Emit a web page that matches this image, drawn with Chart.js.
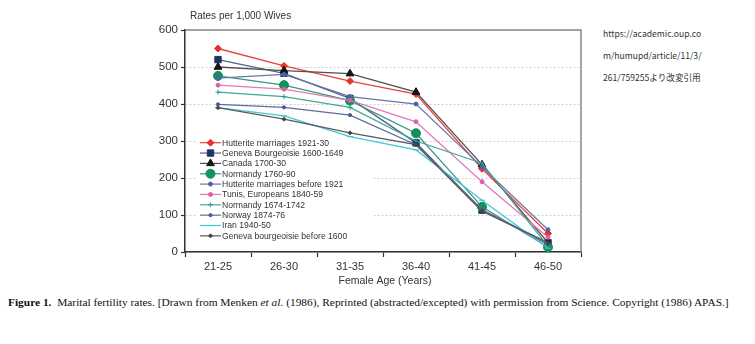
<!DOCTYPE html>
<html>
<head>
<meta charset="utf-8">
<script src="https://cdn.jsdelivr.net/npm/chart.js@4"></script>
<style>
  body { margin: 0; background: #fff; width: 755px; height: 344px; position: relative; overflow: hidden; }
  #wrap { position: absolute; left: 0; top: 0; width: 595px; height: 290px; }
  #note { position: absolute; left: 603px; top: 22px; font-family: "Noto Sans CJK JP", "Noto Sans", sans-serif; font-size: 8.6px; line-height: 22px; color: #333; }
  #caption { position: absolute; left: 8px; top: 296px; font-family: "Liberation Serif", "DejaVu Serif", serif; font-size: 11.4px; color: #111; white-space: nowrap; }
</style>
</head>
<body>
<div id="wrap"><canvas id="chart"></canvas></div>
<div id="note">https://academic.oup.co<br>m/humupd/article/11/3/<br>261/759255より改変引用</div>
<div id="caption"><b>Figure 1.</b>&nbsp; Marital fertility rates. [Drawn from Menken <i>et al.</i> (1986), Reprinted (abstracted/excepted) with permission from Science. Copyright (1986) APAS.]</div>
<script>
// age groups and rates per 1,000 wives
const ages = ['21-25', '26-30', '31-35', '36-40', '41-45', '46-50'];
const yTicks = [0, 100, 200, 300, 400, 500, 600];

const hutterite1921 = [550, 503, 462, 427, 225, 50];
const geneva1600 = [520, 483, 415, 295, 113, 25];
const canada = [500, 490, 482, 432, 236, 25];
const normandy1760 = [476, 451, 409, 321, 122, 13];
const hutteriteBefore = [470, 480, 420, 400, 230, 60];
const tunis = [451, 440, 410, 352, 190, 40];
const normandy1674 = [432, 420, 391, 300, 240, 15];
const norway = [399, 391, 370, 290, 115, 20];
const iran = [390, 368, 312, 276, 140, 10];
const genevaBefore = [390, 359, 322, 290, 110, 25];

const series = [
    { label: 'Hutterite marriages 1921-30', data: hutterite1921, line: '#e8423c', mark: '#e8302c', style: 'rectRot', r: 3.5 },
    { label: 'Geneva Bourgeoisie 1600-1649', data: geneva1600, line: '#52648a', mark: '#1b3463', style: 'rect', r: 4.5 },
    { label: 'Canada 1700-30', data: canada, line: '#505050', mark: '#151515', style: 'triangle', r: 4.5 },
    { label: 'Normandy 1760-90', data: normandy1760, line: '#3a9580', mark: '#13915a', style: 'circle', r: 4.5 },
    { label: 'Hutterite marriages before 1921', data: hutteriteBefore, line: '#6676aa', mark: '#4c62a8', style: 'circle', r: 2 },
    { label: 'Tunis, Europeans 1840-59', data: tunis, line: '#e07ab8', mark: '#e060a8', style: 'circle', r: 2 },
    { label: 'Normandy 1674-1742', data: normandy1674, line: '#40a89a', mark: '#2a9a8a', style: 'cross', r: 2.5 },
    { label: 'Norway 1874-76', data: norway, line: '#5e6c9c', mark: '#4a5a90', style: 'circle', r: 1.6 },
    { label: 'Iran 1940-50', data: iran, line: '#44c6da', mark: '#30c0d8', style: 'line', r: 3 },
    { label: 'Geneva bourgeoisie before 1600', data: genevaBefore, line: '#5a5a5a', mark: '#444444', style: 'rectRot', r: 2 },
];

const legendBox = { x: 196, y: 136, w: 178, h: 106 };

const legendPlugin = {
    id: 'insideLegend',
    beforeDatasetsDraw(chart) {
        const ctx = chart.ctx;
        ctx.save();
        ctx.fillStyle = '#fff';
        ctx.fillRect(legendBox.x, legendBox.y, legendBox.w, legendBox.h);
        ctx.restore();
    },
    afterDatasetsDraw(chart) {
        const ctx = chart.ctx;
        const area = chart.chartArea;
        ctx.save();
        // grey box on top and right
        ctx.strokeStyle = '#888';
        ctx.lineWidth = 1.5;
        ctx.beginPath();
        ctx.moveTo(area.left, area.top);
        ctx.lineTo(area.right, area.top);
        ctx.lineTo(area.right, area.bottom);
        ctx.stroke();

        ctx.font = '8.6px "Liberation Sans", Arial, sans-serif';
        ctx.textBaseline = 'middle';
        series.forEach((s, i) => {
            const y = 142.7 + i * 10.35;
            ctx.strokeStyle = s.line;
            ctx.lineWidth = 1.2;
            ctx.beginPath();
            ctx.moveTo(200, y);
            ctx.lineTo(221, y);
            ctx.stroke();
            ctx.fillStyle = s.mark;
            ctx.strokeStyle = s.mark;
            ctx.lineWidth = 1;
            Chart.helpers.drawPoint(ctx, { pointStyle: s.style, radius: s.r, rotation: 0, borderWidth: 1 }, 210.5, y);
            ctx.fillStyle = '#333';
            ctx.fillText(s.label, 222, y + 0.5);
        });

        // axis titles
        ctx.fillStyle = '#333';
        ctx.font = '10px "Liberation Sans", Arial, sans-serif';
        ctx.textAlign = 'left';
        ctx.fillText('Rates per 1,000 Wives', 190, 16);
        ctx.textAlign = 'center';
        ctx.font = '10.5px "Liberation Sans", Arial, sans-serif';
        ctx.fillText('Female Age (Years)', 385, 281);
        ctx.restore();
    }
};

new Chart(document.getElementById('chart'), {
    type: 'line',
    data: {
        labels: ages,
        datasets: series.map(s => ({
            label: s.label,
            data: s.data,
            borderColor: s.line,
            backgroundColor: s.mark,
            pointBorderColor: s.mark,
            pointBackgroundColor: s.mark,
            pointStyle: s.style,
            pointRadius: s.r,
            pointBorderWidth: 1,
            borderWidth: 1.3,
            tension: 0,
        })).reverse(),
    },
    options: {
        responsive: true,
        maintainAspectRatio: false,
        animation: false,
        layout: { padding: { left: 0, right: 14, top: 30, bottom: 0 } },
        plugins: {
            legend: { display: false },
            tooltip: { enabled: false },
        },
        scales: {
            x: {
                offset: true,
                afterFit: scale => { scale.height = 38; },
                grid: { offset: true, drawOnChartArea: false, tickLength: 5, tickColor: '#333', tickWidth: 1.2 },
                border: { color: '#333', width: 1.5 },
                ticks: { color: '#333', font: { family: '"Liberation Sans", Arial, sans-serif', size: 11 }, padding: 3, maxRotation: 0 },
            },
            y: {
                min: 0,
                max: 600,
                afterFit: scale => { scale.width = 185; },
                afterBuildTicks: scale => { scale.ticks = yTicks.map(v => ({ value: v })); },
                grid: { color: '#cfcfcf', tickColor: '#333', tickLength: 4, tickWidth: 1.2, tickBorderDash: [] },
                border: { color: '#333', width: 1.5, dash: [2, 2] },
                ticks: { color: '#333', font: { family: '"Liberation Sans", Arial, sans-serif', size: 11.5 }, padding: 3 },
            },
        },
    },
    plugins: [legendPlugin],
});
</script>
</body>
</html>
